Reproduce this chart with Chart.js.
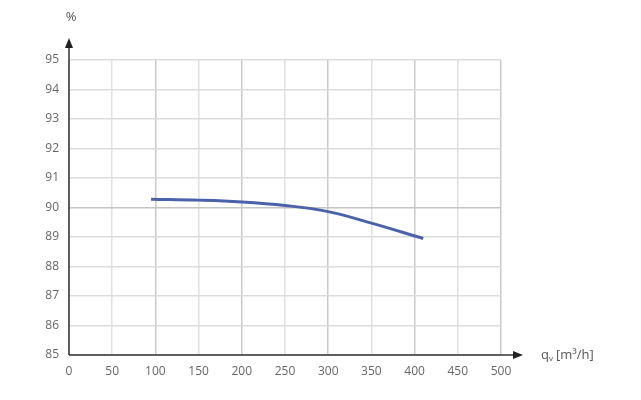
<!DOCTYPE html>
<html>
<head>
<meta charset="utf-8">
<script src="https://cdn.jsdelivr.net/npm/chart.js@4/dist/chart.umd.min.js"></script>
<style>
  html, body { margin: 0; padding: 0; background: #fff; }
  #wrap { width: 641px; height: 400px; position: relative; }
</style>
</head>
<body>
<div id="wrap"><canvas id="myChart" width="641" height="400"></canvas></div>
<script>
// values
var flow = [95, 150, 200, 250, 300, 350, 410]
var efficiency = [90.28, 90.25, 90.19, 90.07, 89.86, 89.47, 88.95]

var xTicks = [0, 50, 100, 150, 200, 250, 300, 350, 400, 450, 500]
var yTicks = [85, 86, 87, 88, 89, 90, 91, 92, 93, 94, 95]

const axisArrows = {
    id: 'axisArrows',
    afterDraw: (chart) => {
      const {ctx, chartArea} = chart;
      const x0 = chartArea.left, y0 = chartArea.bottom;
      ctx.save();
      ctx.strokeStyle = '#333';
      ctx.fillStyle = '#222';
      ctx.lineWidth = 1.5;
      // x axis
      ctx.beginPath();
      ctx.moveTo(x0, y0);
      ctx.lineTo(chartArea.right + 15, y0);
      ctx.stroke();
      ctx.beginPath();
      ctx.moveTo(chartArea.right + 22, y0);
      ctx.lineTo(chartArea.right + 12, y0 - 4);
      ctx.lineTo(chartArea.right + 12, y0 + 4);
      ctx.closePath();
      ctx.fill();
      // y axis
      ctx.beginPath();
      ctx.moveTo(x0, y0);
      ctx.lineTo(x0, chartArea.top - 15);
      ctx.stroke();
      ctx.beginPath();
      ctx.moveTo(x0, chartArea.top - 22);
      ctx.lineTo(x0 - 4, chartArea.top - 12);
      ctx.lineTo(x0 + 4, chartArea.top - 12);
      ctx.closePath();
      ctx.fill();
      // axis titles
      ctx.fillStyle = '#555';
      ctx.font = '13px "Open Sans"';
      ctx.textBaseline = 'middle';
      ctx.textAlign = 'center';
      ctx.fillText('%', x0 + 2, 17);
      ctx.textAlign = 'left';
      let tx = chartArea.right + 40;
      ctx.fillText('q', tx, y0);
      tx += ctx.measureText('q').width;
      ctx.font = '8px "Open Sans"';
      ctx.fillText('v', tx, y0 + 4);
      tx += ctx.measureText('v').width + 3;
      ctx.font = '13px "Open Sans"';
      ctx.fillText('[m³/h]', tx, y0);
      ctx.restore();
    }
  };

new Chart(document.getElementById("myChart"), {
    type: 'line',
    data: {
        datasets: [{
            data: flow.map((q, i) => ({x: q, y: efficiency[i]})),
            borderColor: '#4a62aa',
            borderWidth: 3,
            pointRadius: 0,
            tension: 0.4,
            fill: false,
        }]
    },
    options: {
        responsive: false,
        animation: false,
        layout: { padding: { left: 0, right: 140, top: 60, bottom: 0 } },
        plugins: {
            legend: { display: false },
            tooltip: { enabled: false },
        },
        scales: {
            x: {
                type: 'linear',
                min: 0,
                max: 500,
                afterBuildTicks: (scale) => { scale.ticks = xTicks.map(v => ({value: v})) },
                afterFit: (scale) => { scale.height = 45 },
                border: { display: false },
                grid: {
                    drawTicks: false,
                    lineWidth: 1.5,
                    color: (c) => c.tick && c.tick.value % 100 === 0 ? '#c9c9c9' : '#e0e0e0',
                },
                ticks: {
                    padding: 9,
                    color: '#666',
                    font: { family: 'Open Sans', size: 12 },
                    maxRotation: 0,
                },
            },
            y: {
                min: 85,
                max: 95,
                afterBuildTicks: (scale) => { scale.ticks = yTicks.map(v => ({value: v})) },
                afterFit: (scale) => { scale.width = 69 },
                border: { display: false },
                grid: {
                    drawTicks: false,
                    lineWidth: 1.5,
                    color: (c) => c.tick && c.tick.value === 90 ? '#c4c4c4' : '#dcdcdc',
                },
                ticks: {
                    padding: 10,
                    color: '#666',
                    font: { family: 'Open Sans', size: 12 },
                },
            },
        },
    },
    plugins: [axisArrows],
});
</script>
</body>
</html>
